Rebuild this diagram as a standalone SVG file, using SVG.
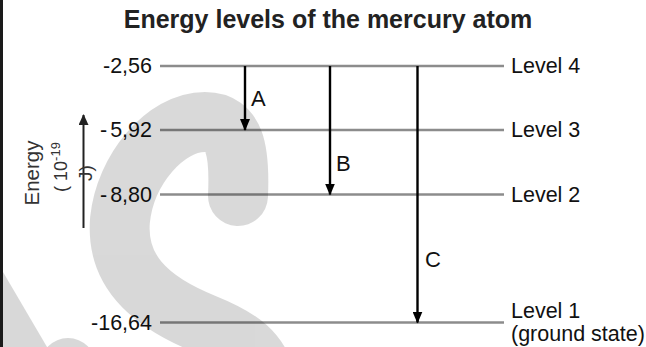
<svg xmlns="http://www.w3.org/2000/svg" width="646" height="347" viewBox="0 0 646 347">
  <defs>
    <style>
      text { font-family: "Liberation Sans", Arial, sans-serif; fill: #111; }
      .title { font-size: 25px; font-weight: bold; text-anchor: middle; fill: #222; }
      .lbl { font-size: 21.5px; }
      .val { font-size: 21.5px; text-anchor: end; }
      .tr { font-size: 22px; }
      .ax { fill: #333; text-anchor: middle; }
      .lvl { stroke: #8c8c8c; stroke-width: 2.4; fill: none; }
      .arr { stroke: #000; stroke-width: 2.4; fill: none; marker-end: url(#ah); }
      .wm { fill: #000; stroke: none; }
      .wms { fill: none; stroke: #000; stroke-linecap: round; }
    </style>
    <marker id="ah" viewBox="0 0 12 10" refX="11" refY="5" markerWidth="12" markerHeight="10" markerUnits="userSpaceOnUse" orient="auto">
      <path d="M0,0 L12,5 L0,10 z" fill="#000"/>
    </marker>
    <marker id="ah2" viewBox="0 0 11 10" refX="10" refY="5" markerWidth="11" markerHeight="10" markerUnits="userSpaceOnUse" orient="auto">
      <path d="M0,0 L11,5 L0,10 z" fill="#222"/>
    </marker>
  </defs>

  <rect x="0" y="0" width="646" height="347" fill="#fff"/>
  <rect x="0" y="0" width="3" height="347" fill="#1a1a1a"/>

  <text class="title" x="328" y="28">Energy levels of the mercury atom</text>

  <g id="level4">
    <line class="lvl" x1="160" y1="66" x2="504" y2="66"/>
    <text class="val" x="152" y="72.5">-2,56</text>
    <text class="lbl" x="511" y="72.5">Level 4</text>
  </g>
  <g id="level3">
    <line class="lvl" x1="160" y1="130" x2="504" y2="130"/>
    <text class="val" x="152" y="137">-<tspan dx="3">5,92</tspan></text>
    <text class="lbl" x="511" y="137">Level 3</text>
  </g>
  <g id="level2">
    <line class="lvl" x1="160" y1="194.5" x2="504" y2="194.5"/>
    <text class="val" x="152" y="201.5">-<tspan dx="3">8,80</tspan></text>
    <text class="lbl" x="511" y="201.5">Level 2</text>
  </g>
  <g id="level1">
    <line class="lvl" x1="160" y1="322.5" x2="504" y2="322.5"/>
    <text class="val" x="152" y="330">-16,64</text>
    <text class="lbl" x="511" y="318">Level 1</text>
    <text class="lbl" x="511" y="341">(ground state)</text>
  </g>

  <g id="watermark" opacity="0.15">
    <path class="wms" stroke-width="60" d="M238 196 C240 150 235 122 205 122 C165 122 125 170 120 220 C116 268 145 300 205 324 C240 338 260 352 268 385"/>
    <circle class="wm" cx="68" cy="366" r="28"/>
    <polygon class="wm" points="3,272 47,347 3,347"/>
  </g>

  <g id="connectors">
    <line class="arr" x1="245" y1="66" x2="245" y2="130"/>
    <line class="arr" x1="330" y1="66" x2="330" y2="194.5"/>
    <line class="arr" x1="417.5" y1="66" x2="417.5" y2="322.5"/>
  </g>

  <g id="transition-labels">
    <text class="tr" x="251" y="106">A</text>
    <text class="tr" x="336" y="171">B</text>
    <text class="tr" x="425" y="267">C</text>
  </g>

  <g id="axis">
    <line x1="83.5" y1="228" x2="83.5" y2="115" stroke="#222" stroke-width="2" marker-end="url(#ah2)"/>
    <text class="ax" transform="translate(39,173) rotate(-90)" font-size="20.5">Energy</text>
    <text class="ax" transform="translate(67,167) rotate(-90)" font-size="18">( 10<tspan font-size="13" dy="-7">-19</tspan></text>
    <text class="ax" transform="translate(92,173) rotate(-90)" font-size="19">J)</text>
  </g>
</svg>
